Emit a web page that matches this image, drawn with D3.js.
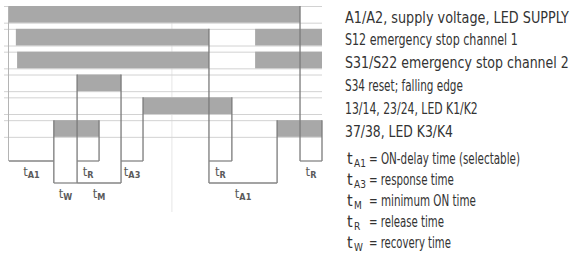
<!DOCTYPE html>
<html>
<head>
<meta charset="utf-8">
<script src="https://cdn.jsdelivr.net/npm/d3@7"></script>
<style>
  body { margin: 0; background: #fff; }
  text { font-family: "Liberation Sans Narrow", "DejaVu Sans Condensed", "Liberation Sans", sans-serif; }
</style>
</head>
<body>
<svg id="chart" width="572" height="257"></svg>
<script>
// signal names (legend on the right, one per row)
const signals = [
  "A1/A2, supply voltage, LED SUPPLY",
  "S12 emergency stop channel 1",
  "S31/S22 emergency stop channel 2",
  "S34 reset; falling edge",
  "13/14, 23/24, LED K1/K2",
  "37/38, LED K3/K4"
]
// high intervals per signal, in time units (0..100)
const highTimes = [
  [[0.3, 93]],
  [[2.5, 64], [78.7, 100]],
  [[2.9, 64], [78.7, 100]],
  [[22, 36]],
  [[43, 71.3]],
  [[14.6, 29], [85.7, 100]]
]
// event lines: time, first row they start at, bracket level they run down to
const events = [
  { t: 14.6, row: 5, level: 2 },
  { t: 22, row: 3, level: 2 },
  { t: 29, row: 5, level: 1 },
  { t: 36, row: 3, level: 2 },
  { t: 43, row: 4, level: 1 },
  { t: 64, row: 1, level: 2 },
  { t: 71.3, row: 4, level: 1 },
  { t: 85.7, row: 5, level: 2 },
  { t: 93, row: 0, level: 1 },
  { t: 100, row: 5, level: 1 }
]
// timing brackets under the diagram
const spans = [
  { t0: 0.3, t1: 14.6, level: 1, sub: "A1" },
  { t0: 14.6, t1: 22, level: 2, sub: "W" },
  { t0: 22, t1: 29, level: 1, sub: "R" },
  { t0: 22, t1: 36, level: 2, sub: "M" },
  { t0: 36, t1: 43, level: 1, sub: "A3" },
  { t0: 64, t1: 71.3, level: 1, sub: "R" },
  { t0: 64, t1: 85.7, level: 2, sub: "A1" },
  { t0: 93, t1: 100, level: 1, sub: "R" }
]
// glossary of the time symbols
const glossSubs = ["A1", "A3", "M", "R", "W"]
const glossText = [
  "= ON-delay time (selectable)",
  "= response time",
  "= minimum ON time",
  "= release time",
  "= recovery time"
]
const legendWidths = [224, 173, 224, 118, 133, 108]
const glossWidths = [151, 85, 107, 75, 82]

const svg = d3.select("#chart")
const x = d3.scaleLinear().domain([0, 100]).range([8, 322])
const row = d3.scaleLinear().domain([0, 6]).range([6, 143])
const barH = (row(1) - row(0)) * 0.73
const level = d3.scaleLinear().domain([1, 2]).range([161, 183])

// squeeze a text horizontally to the wanted width (condensed look)
function fitWidth(sel, widths) {
  sel.each(function (d, i) {
    const w = this.getComputedTextLength()
    const t = d3.select(this)
    const x0 = +t.attr("x"), y0 = +t.attr("y")
    t.attr("x", 0).attr("y", 0)
      .attr("transform", `translate(${x0},${y0}) scale(${widths[i] / w},1)`)
  })
}

// faint scan line
svg.append("line")
  .attr("x1", x(52.2)).attr("x2", x(52.2))
  .attr("y1", row(0)).attr("y2", 212)
  .attr("stroke", "#e6e6e6").attr("stroke-width", 1)

// light row guides (top and baseline of every signal)
const guideYs = d3.range(6).flatMap(i => [row(i), row(i) + barH])
svg.append("g").selectAll("line").data(guideYs).join("line")
  .attr("x1", 4).attr("x2", x(100))
  .attr("y1", d => d + 0.5).attr("y2", d => d + 0.5)
  .attr("stroke", "#d2d2d2").attr("stroke-width", 1)

// signal bars
const bars = highTimes.flatMap((iv, i) => iv.map(([a, b]) => ({ i, a, b })))
svg.append("g").selectAll("rect").data(bars).join("rect")
  .attr("x", d => x(d.a)).attr("width", d => x(d.b) - x(d.a))
  .attr("y", d => row(d.i)).attr("height", barH)
  .attr("fill", "#a8a8a8")

// left border
svg.append("line")
  .attr("x1", x(0) + 0.5).attr("x2", x(0) + 0.5)
  .attr("y1", row(0)).attr("y2", level(1))
  .attr("stroke", "#b4b4b4")

// event lines
svg.append("g").selectAll("line").data(events).join("line")
  .attr("x1", d => x(d.t)).attr("x2", d => x(d.t))
  .attr("y1", d => row(d.row)).attr("y2", d => level(d.level))
  .attr("stroke", "#7a7a7a").attr("stroke-width", 1.3)

// brackets + labels
const sp = svg.append("g")
sp.selectAll("line").data(spans).join("line")
  .attr("x1", d => x(d.t0)).attr("x2", d => x(d.t1))
  .attr("y1", d => level(d.level)).attr("y2", d => level(d.level))
  .attr("stroke", "#858585").attr("stroke-width", 1.3)
const lbl = sp.selectAll("text").data(spans).join("text")
  .attr("x", d => (x(d.t0) + x(d.t1)) / 2)
  .attr("y", d => level(d.level) + 15)
  .attr("text-anchor", "middle")
  .attr("fill", "#5a5a5a")
  .style("font-size", "13px")
lbl.append("tspan").text("t")
lbl.append("tspan").attr("dy", 2).style("font-size", "9px").style("font-weight", "bold").text(d => d.sub)

// legend
const leg = svg.append("g").selectAll("text").data(signals).join("text")
  .attr("x", 345).attr("y", (d, i) => row(i) + 16.5)
  .attr("fill", "#333")
  .style("font-size", "16px")
  .text(d => d)
fitWidth(leg, legendWidths)

const gl = svg.append("g").selectAll("g").data(glossText).join("g")
  .attr("transform", (d, i) => `translate(0,${164 + i * 21})`)
gl.append("text").attr("x", 347).attr("y", 0).attr("fill", "#333").style("font-size", "16px").text("t")
gl.append("text").attr("x", 354).attr("y", 3).attr("fill", "#333").style("font-size", "10px").text((d, i) => glossSubs[i])
const glt = gl.append("text").attr("x", 369).attr("y", 0)
  .attr("fill", "#333").style("font-size", "16px")
  .text(d => d)
fitWidth(glt, glossWidths)
</script>
</body>
</html>
